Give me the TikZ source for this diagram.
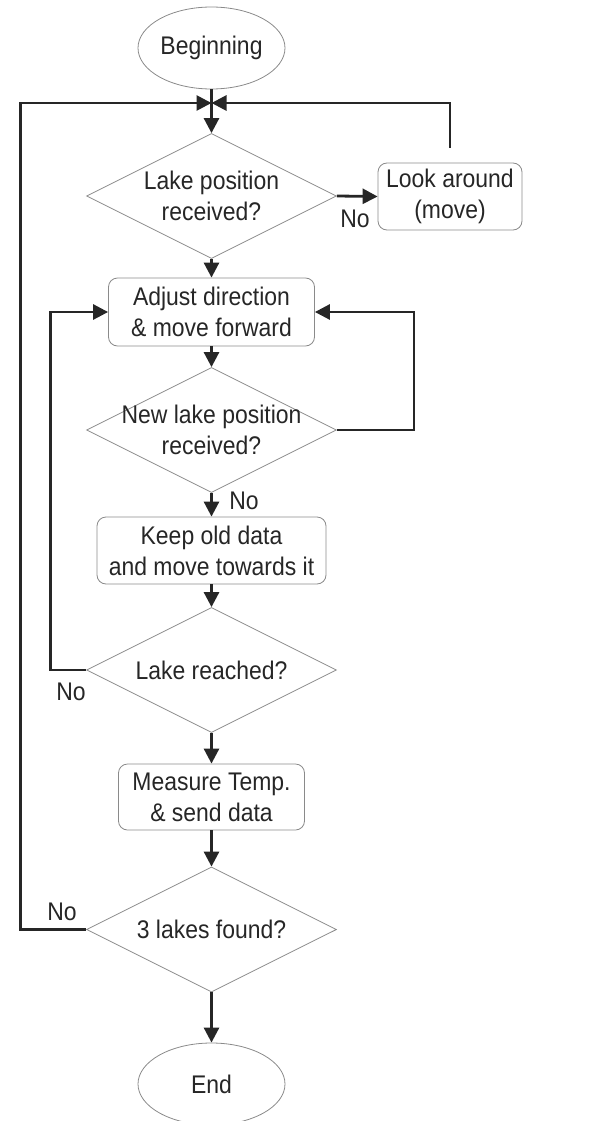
\documentclass[tikz,border=0pt]{standalone}
\usepackage{fontspec}
\setmainfont{Liberation Sans}[FakeStretch=0.9]
\usetikzlibrary{shapes.geometric,arrows.meta}
\definecolor{ink}{HTML}{262626}
\definecolor{edge}{HTML}{8A8A8A}
\begin{document}
\begin{tikzpicture}[x=1pt,y=-1pt,
  every node/.style={font=\fontsize{25.5}{31}\selectfont, text=ink},
  terminal/.style={ellipse, draw=edge, line width=0.8pt, minimum width=147pt, minimum height=82pt, inner sep=0pt},
  process/.style={rectangle, rounded corners=9pt, draw=edge, line width=0.8pt, align=center, inner sep=0pt},
  decision/.style={diamond, draw=edge, line width=0.8pt, minimum width=250pt, minimum height=125pt, inner sep=0pt},
  txt/.style={align=center, inner sep=0pt},
  conn/.style={draw=ink, line width=2.8pt, -{Triangle[length=15pt,width=15pt]}},
  plain/.style={draw=ink, line width=2.8pt},
  lbl/.style={inner sep=0pt}
]
\useasboundingbox (0,0) rectangle (595,1121);

\node[terminal] (begin) at (211.5,48) {Beginning};
\coordinate (j) at (211.5,103);
\node[decision] (d1) at (211.5,196) {};
\node[txt] (t1) at (d1.center) {Lake position\\received?};
\node[process, minimum width=144pt, minimum height=67pt] (look) at (450,196.5) {Look around\\(move)};
\node[process, minimum width=206pt, minimum height=68pt] (adj) at (211.5,312) {Adjust direction\\\& move forward};
\node[decision] (d2) at (211.5,430) {};
\node[txt] (t2) at (d2.center) {New lake position\\received?};
\node[process, minimum width=229pt, minimum height=67pt] (keep) at (211.5,550.5) {Keep old data\\and move towards it};
\node[decision] (d3) at (211.5,670) {};
\node[txt] (t3) at (d3.center) {Lake reached?};
\node[process, minimum width=186pt, minimum height=66pt] (meas) at (211.5,797) {Measure Temp.\\\& send data};
\node[decision] (d4) at (211.5,929.5) {};
\node[txt] (t4) at (d4.center) {3 lakes found?};
\node[terminal] (end) at (211.5,1084) {End};

% connectors
\draw[plain] (begin.south) -- (j);
\draw[conn] (j) -- (d1.north);
\draw[conn] (d1.east) -- (look.west);
\draw[conn, shorten <=15pt] (look.north) |- (j);
\draw[conn] (d1.south) -- (adj.north);
\draw[conn] (adj.south) -- (d2.north);
\draw[conn] (d2.east) -- ++(77,0) |- (adj.east);
\draw[conn] (d2.south) -- (keep.north);
\draw[conn] (keep.south) -- (d3.north);
\draw[conn] (d3.west) -- ++(-36,0) |- (adj.west);
\draw[conn] (d3.south) -- (meas.north);
\draw[conn] (meas.south) -- (d4.north);
\draw[conn] (d4.west) -- ++(-66,0) |- (j);
\draw[conn] (d4.south) -- (end.north);

% labels
\node[lbl] (no1) at (355,219) {No};
\node[lbl] (no2) at (244,501) {No};
\node[lbl] (no3) at (71,692) {No};
\node[lbl] (no4) at (62,912) {No};
\end{tikzpicture}
\end{document}
